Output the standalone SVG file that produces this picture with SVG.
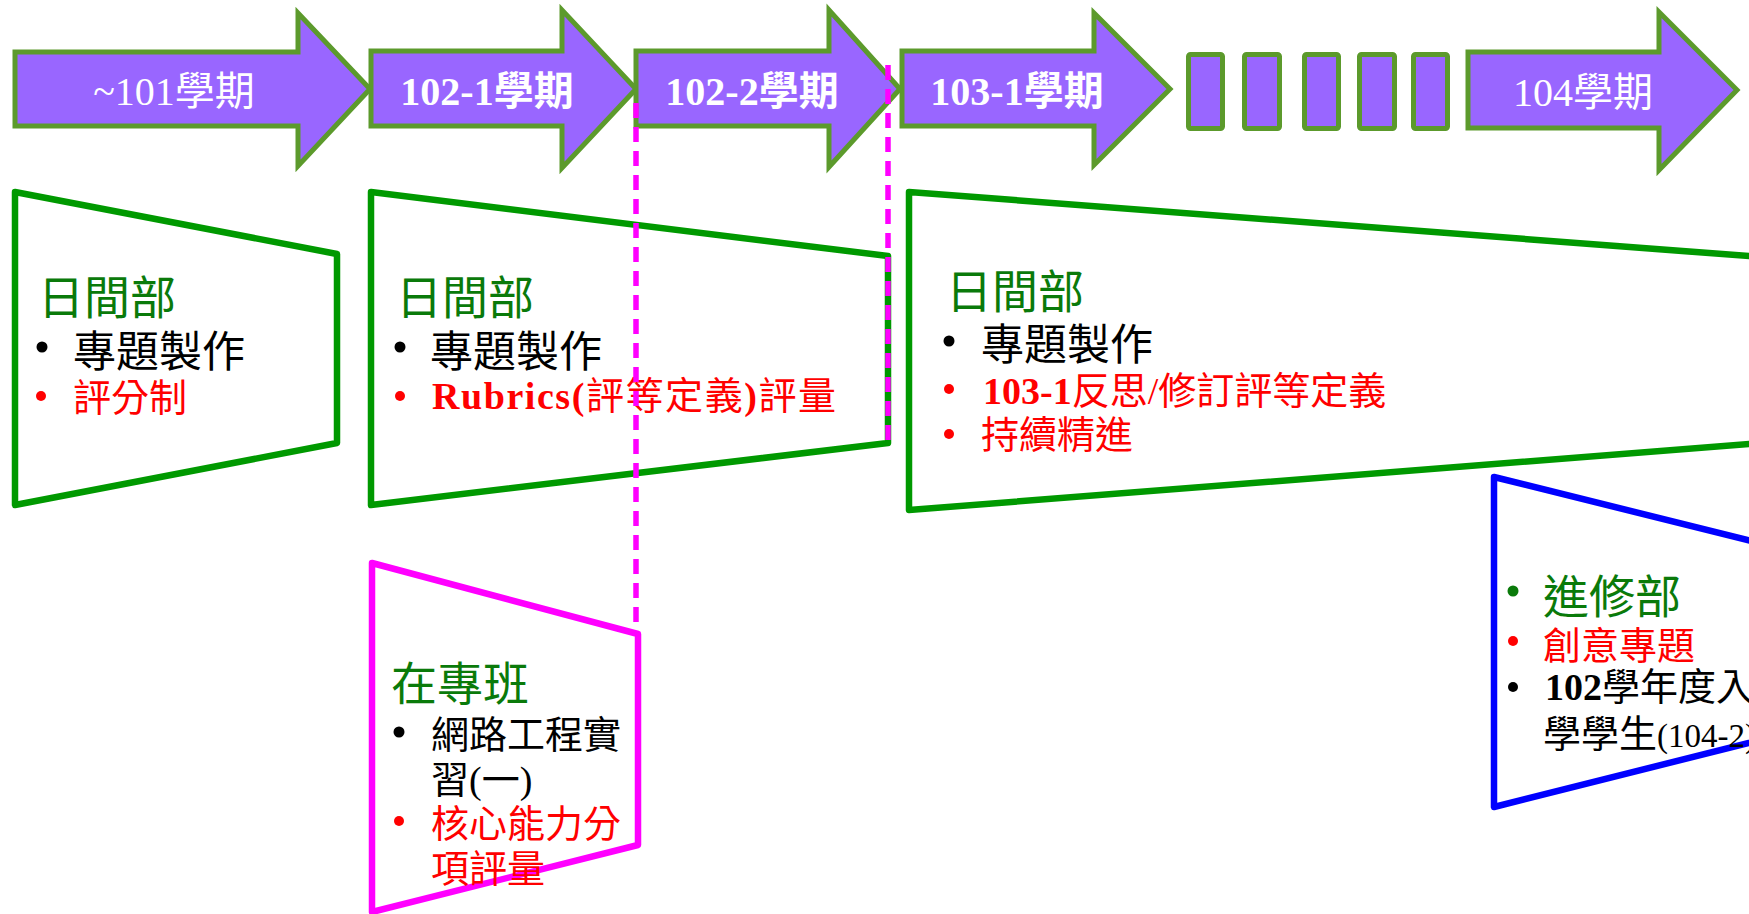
<svg xmlns="http://www.w3.org/2000/svg" width="1749" height="914" viewBox="0 0 1749 914">
<style>
.arrow{fill:#9966ff;stroke:#5c9a2c;stroke-width:5;stroke-linejoin:miter}
.blk{fill:#9966ff;stroke:#5c9a2c;stroke-width:5}
.at{font-family:"Liberation Serif","Noto Sans CJK TC",serif;font-size:40px;fill:#ffffff;text-anchor:middle}
.trap{fill:none;stroke-width:6.5;stroke-linejoin:round}
.g{stroke:#009900}.m{stroke:#ff00ff}.b{stroke:#0000ff}
.t{font-family:"Liberation Serif","Noto Sans CJK TC",serif}
.h{font-size:46px;fill:#0a7a0a}
.k{font-size:43px;fill:#000000}
.ks{font-size:38px;fill:#000000}
.r{font-size:38px;fill:#ff0000}
.dk{fill:#000000}.dr{fill:#ff0000}.dg{fill:#0a7a0a}
.dash{stroke:#ff00ff;stroke-width:5.5;stroke-dasharray:15 9;fill:none}
</style>
<rect width="1749" height="914" fill="#ffffff"/>
<g id="arrow-101">
<polygon class="arrow" points="15,52 298,52 298,13 370,89 298,166 298,126 15,126"/>
<text class="at" x="174" y="105">~101學期</text>
</g>
<g id="arrow-102-1">
<polygon class="arrow" points="371,51 562,51 562,10 636,89 562,168 562,126 371,126"/>
<text class="at" x="487" y="105" font-weight="bold">102-1學期</text>
</g>
<g id="arrow-102-2">
<polygon class="arrow" points="636,51 829,51 829,10 900,89 829,167 829,126 636,126"/>
<text class="at" x="752" y="105" font-weight="bold">102-2學期</text>
</g>
<g id="arrow-103-1">
<polygon class="arrow" points="902,51 1094,51 1094,13 1170,89 1094,165 1094,126 902,126"/>
<text class="at" x="1017" y="105" font-weight="bold">103-1學期</text>
</g>
<g id="blocks">
<rect class="blk" x="1188.5" y="54.5" width="34" height="74" rx="2"/>
<rect class="blk" x="1244.5" y="54.5" width="35" height="74" rx="2"/>
<rect class="blk" x="1304.5" y="54.5" width="34" height="74" rx="2"/>
<rect class="blk" x="1359.5" y="54.5" width="35" height="74" rx="2"/>
<rect class="blk" x="1413.5" y="54.5" width="34" height="74" rx="2"/>
</g>
<g id="arrow-104">
<polygon class="arrow" points="1468,52 1659,52 1659,12 1737,90 1659,170 1659,128 1468,128"/>
<text class="at" x="1583" y="106">104學期</text>
</g>
<g id="day-101">
<polygon class="trap g" points="15,192 337,254 337,443 15,505"/>
<text class="t h" x="38" y="314">日間部</text>
<circle class="dk" cx="42" cy="347" r="5.5"/>
<text class="t k" x="73" y="367">專題製作</text>
<circle class="dr" cx="41" cy="396" r="5"/>
<text class="t r" x="73" y="411">評分制</text>
</g>
<g id="day-102">
<polygon class="trap g" points="371,192 888,256 888,443 371,505"/>
<text class="t h" x="396" y="314">日間部</text>
<circle class="dk" cx="400" cy="347" r="5.5"/>
<text class="t k" x="430" y="367">專題製作</text>
<circle class="dr" cx="400" cy="396" r="5"/>
<text class="t r" x="432" y="409" textLength="404" lengthAdjust="spacing"><tspan font-weight="bold">Rubrics(</tspan>評等定義<tspan font-weight="bold">)</tspan>評量</text>
</g>
<g id="day-103">
<polygon class="trap g" points="909,192 1800,260 1800,440 909,510"/>
<text class="t h" x="946" y="308">日間部</text>
<circle class="dk" cx="949" cy="341" r="5.5"/>
<text class="t k" x="981" y="360">專題製作</text>
<circle class="dr" cx="949" cy="389" r="5"/>
<text class="t r" x="983" y="404"><tspan font-weight="bold">103-1</tspan>反思/修訂評等定義</text>
<circle class="dr" cx="949" cy="434" r="5"/>
<text class="t r" x="981" y="448">持續精進</text>
</g>
<g id="inservice">
<polygon class="trap m" points="372,563 638,634 638,845 372,912"/>
<text class="t h" x="391" y="700">在專班</text>
<circle class="dk" cx="399" cy="732" r="5.5"/>
<text class="t ks" x="431" y="748">網路工程實</text>
<text class="t ks" x="431" y="793">習(一)</text>
<circle class="dr" cx="399" cy="821" r="5"/>
<text class="t r" x="431" y="837">核心能力分</text>
<text class="t r" x="431" y="882">項評量</text>
</g>
<g id="evening">
<polygon class="trap b" points="1494,477 1800,553 1800,730 1494,807"/>
<circle class="dg" cx="1513" cy="591" r="5.5"/>
<text class="t h" x="1543" y="613">進修部</text>
<circle class="dr" cx="1513" cy="641" r="5"/>
<text class="t r" x="1543" y="659">創意專題</text>
<circle class="dk" cx="1513" cy="687" r="5"/>
<text class="t ks" x="1545" y="700"><tspan font-weight="bold">102</tspan>學年度入</text>
<text class="t ks" x="1543" y="747">學學生<tspan font-size="33">(104-2)</tspan></text>
</g>
<g id="connectors">
<line class="dash" x1="636" y1="103" x2="636" y2="632"/>
<line class="dash" x1="888" y1="65" x2="888" y2="443"/>
</g>
</svg>
